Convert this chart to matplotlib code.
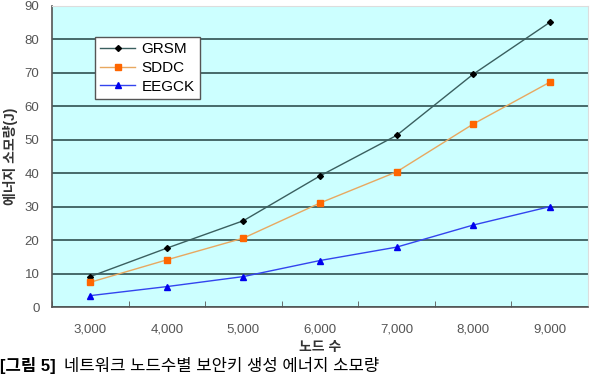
import matplotlib.pyplot as plt
import numpy as np

plt.rcParams['font.family'] = ['Liberation Sans', 'Noto Sans CJK KR', 'DejaVu Sans']

# data
nodes = ['3,000', '4,000', '5,000', '6,000', '7,000', '8,000', '9,000']
grsm = [9.1, 17.6, 25.8, 39.2, 51.3, 69.6, 85.1]
sddc = [7.4, 14.1, 20.6, 31.1, 40.4, 54.7, 67.2]
eegck = [3.4, 6.1, 9.1, 13.9, 17.9, 24.5, 30.0]
yticks = [0, 10, 20, 30, 40, 50, 60, 70, 80, 90]

fig = plt.figure(figsize=(5.9, 3.75), dpi=100)
ax = fig.add_axes([52/590, 68/375, 536/590, 301/375])
ax.set_facecolor('#ccffff')

x = np.arange(len(nodes))
ax.plot(x, grsm, color='#3a5f5f', lw=1, marker='D', ms=3, mfc='black', mec='black', label='GRSM')
ax.plot(x, sddc, color='#e8a860', lw=1, marker='s', ms=4, mfc='#ff6600', mec='#ff6600', label='SDDC')
ax.plot(x, eegck, color='#3344ee', lw=1, marker='^', ms=5, mfc='#0000ee', mec='#0000ee', label='EEGCK')

ax.set_xlim(-0.5, len(nodes) - 0.5)
ax.set_ylim(0, 90)
ax.set_yticks(yticks)
ax.set_xticks(x)
ax.set_xticklabels(nodes)
ax.set_xticks(np.arange(-0.5, len(nodes)), minor=True)
ax.tick_params(axis='x', which='major', length=0, pad=12, labelsize=9.5, labelcolor='#555555')
ax.tick_params(axis='x', which='minor', length=4, direction='in', color='#555555')
ax.tick_params(axis='y', length=0, pad=9, labelsize=9.5, labelcolor='#555555')
ax.grid(axis='y', color='#2f5050', lw=1.2)
ax.set_axisbelow(True)
for s in ['top', 'right']:
    ax.spines[s].set_color('#dddddd')
for s in ['left', 'bottom']:
    ax.spines[s].set_color('#555555')
    ax.spines[s].set_linewidth(1.2)

ax.set_ylabel('에너지 소모량(J)', fontsize=10, fontweight='bold', color='#333333', labelpad=5)
ax.set_xlabel('노드 수', fontsize=10, fontweight='bold', color='#333333', labelpad=3)

leg = ax.legend(loc='upper left', bbox_to_anchor=(0.08, 0.897), fontsize=11,
                frameon=True, fancybox=False, handlelength=2.3, borderpad=0.35,
                labelspacing=0.3, handletextpad=0.4, borderaxespad=0)
leg.get_frame().set_edgecolor('#555555')
leg.get_frame().set_facecolor('white')
leg.get_frame().set_alpha(1)

fig.text(0.0, 1/375, '[그림 5]', fontsize=12, fontweight='bold', va='bottom', ha='left')
fig.text(64/590, 1/375, '네트워크 노드수별 보안키 생성 에너지 소모량', fontsize=12, va='bottom', ha='left')

fig.savefig('out.png', dpi=100)
